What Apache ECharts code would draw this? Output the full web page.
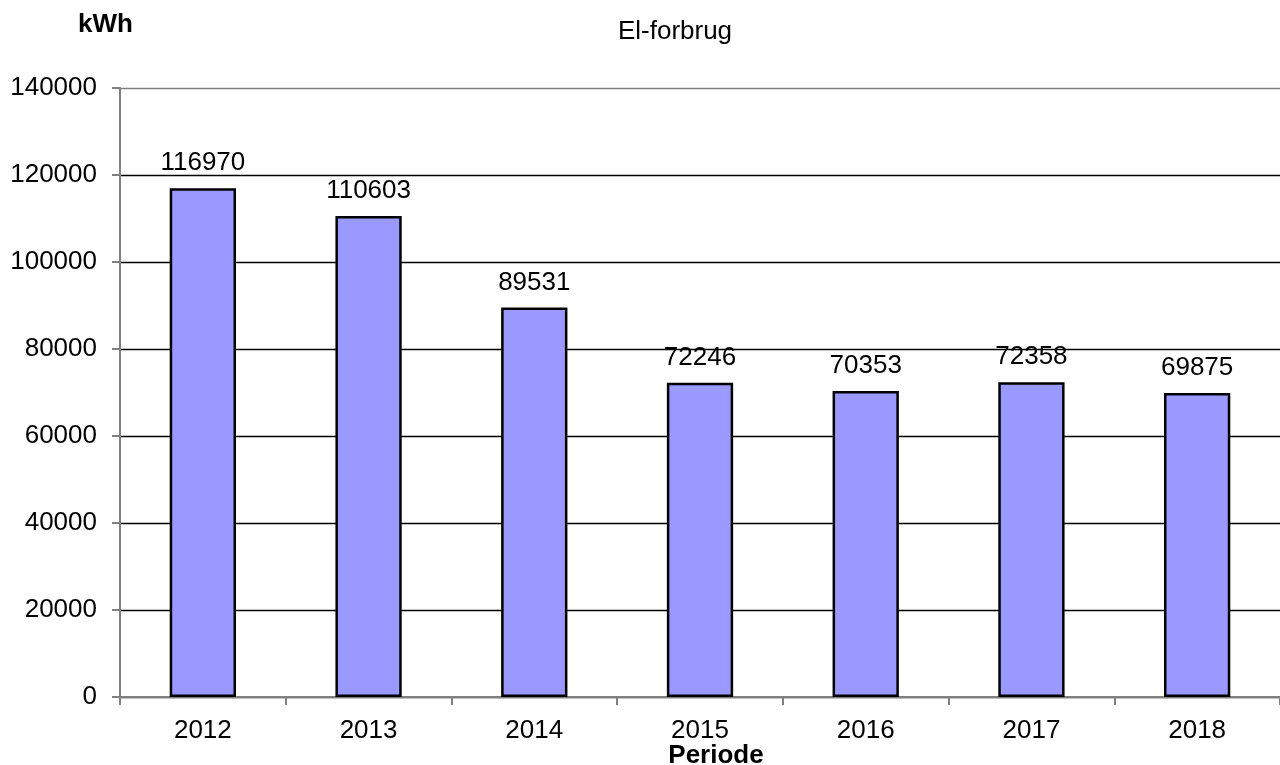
<!DOCTYPE html>
<html><head><meta charset="utf-8">
<script src="https://cdn.jsdelivr.net/npm/echarts@6/dist/echarts.min.js"></script>
<style>html,body{margin:0;padding:0;background:#fff}#c{width:1280px;height:765px}</style>
</head><body><div id="c"></div>
<script>
const categories = ['2012','2013','2014','2015','2016','2017','2018'];
const values = [116970, 110603, 89531, 72246, 70353, 72358, 69875];
const yTicks = [0, 20000, 40000, 60000, 80000, 100000, 120000, 140000];

const FONT = '"Liberation Sans", Arial, sans-serif';
const chart = echarts.init(document.getElementById('c'));
chart.setOption({
  animation: false,
  backgroundColor: '#fff',
  title: [
    {text: 'El-forbrug', left: 670, top: 14, textAlign: 'center',
     textStyle: {fontFamily: FONT, fontSize: 26, fontWeight: 'normal', color: '#000'}},
    {text: 'kWh', left: 73, top: 7,
     textStyle: {fontFamily: FONT, fontSize: 26, fontWeight: 'bold', color: '#000'}},
    {text: 'Periode', left: 711, top: 738, textAlign: 'center',
     textStyle: {fontFamily: FONT, fontSize: 26, fontWeight: 'bold', color: '#000'}}
  ],
  grid: {left: 120, right: 0, top: 88, bottom: 68, containLabel: false, outerBoundsMode: 'none'},
  xAxis: {
    type: 'category', data: categories,
    axisLine: {lineStyle: {color: '#808080', width: 2}},
    axisTick: {show: true, length: 8, lineStyle: {color: '#808080', width: 2}},
    axisLabel: {fontFamily: FONT, fontSize: 26, color: '#000', margin: 21},
    splitLine: {show: false}
  },
  yAxis: {
    type: 'value', min: yTicks[0], max: yTicks[yTicks.length-1], interval: 20000,
    axisLine: {show: true, lineStyle: {color: '#808080', width: 2}},
    axisTick: {show: true, length: 8, lineStyle: {color: '#808080', width: 2}},
    axisLabel: {fontFamily: FONT, fontSize: 26, color: '#000', margin: 23,
                formatter: v => String(v)},
    splitLine: {show: true, lineStyle: {color: ['#000','#000','#000','#000','#000','#000','#000','#808080'], width: 1.3}}
  },
  series: [{
    type: 'bar', data: values, barWidth: '40%',
    itemStyle: {color: '#9999ff', borderColor: '#000', borderWidth: 2.5},
    label: {show: true, position: 'top', distance: 12, fontFamily: FONT, fontSize: 26, color: '#000'}
  }]
});
</script></body></html>
